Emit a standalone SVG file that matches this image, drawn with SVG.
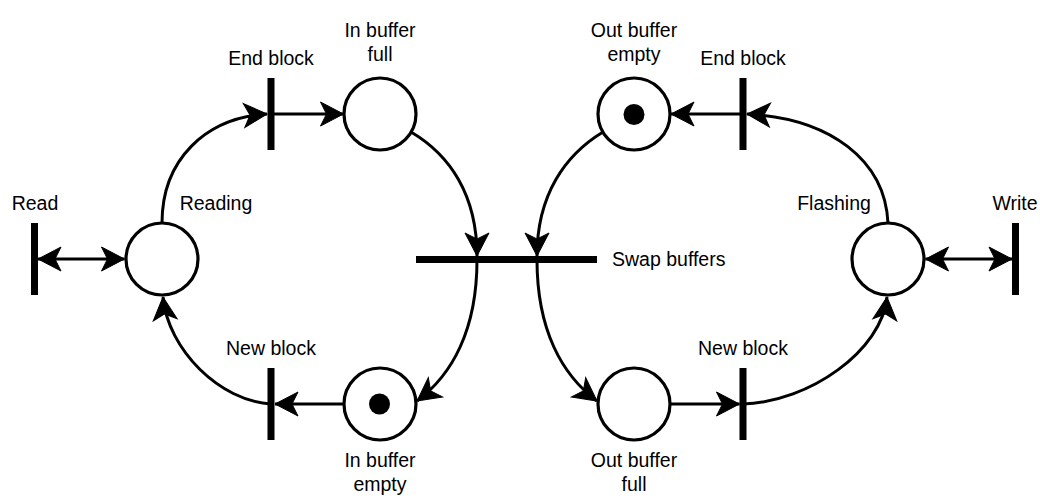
<svg xmlns="http://www.w3.org/2000/svg" width="1040" height="498" viewBox="0 0 1040 498">
  <style>
    .place { fill: #fff; stroke: #000; stroke-width: 3.2; }
    .token { fill: #000; }
    .bar { fill: #000; }
    .edge { fill: none; stroke: #000; stroke-width: 3; }
    .arr { marker-end: url(#head); }
    .both { marker-start: url(#head); marker-end: url(#head); }
    text { font-family: "Liberation Sans", Arial, Helvetica, sans-serif; font-size: 19.5px; fill: #000; text-anchor: middle; }
    .left { text-anchor: start; }
  </style>
  <defs>
    <marker id="head" markerUnits="userSpaceOnUse" markerWidth="30" markerHeight="30" refX="0" refY="0" orient="auto-start-reverse" overflow="visible">
      <path d="M0,0 L-23,-12 L-17,0 L-23,12 Z" fill="#000" stroke="#000" stroke-width="1" stroke-linejoin="miter"/>
    </marker>
  </defs>

  <rect width="1040" height="498" fill="#fff"/>

  <!-- arcs between places and transitions -->
  <g id="connectors">
    <path class="edge both" d="M38,259 L124.5,259"/>
    <path class="edge arr" d="M162,223 C162,160 205,118 267,114"/>
    <path class="edge arr" d="M271,114 L343.5,114"/>
    <path class="edge arr" d="M411,132 C450,155 477,195 477,256"/>
    <path class="edge arr" d="M477,260 C477,330 452,375 417,401"/>
    <path class="edge arr" d="M343,404 L275,404"/>
    <path class="edge arr" d="M271,404 C220,401 168,350 163,297"/>

    <path class="edge both" d="M925.5,259 L1012,259"/>
    <path class="edge arr" d="M888,223 C885,160 830,118 747,114"/>
    <path class="edge arr" d="M743,114 L671,114"/>
    <path class="edge arr" d="M603,132 C565,155 537,195 537,256"/>
    <path class="edge arr" d="M537,260 C537,330 562,375 597,401"/>
    <path class="edge arr" d="M671,404 L739.5,404"/>
    <path class="edge arr" d="M743,404 C810,402 882,350 887,297"/>
  </g>

  <!-- transitions -->
  <g id="t-read">
    <rect class="bar" x="31" y="223" width="7" height="72"/>
    <text x="35" y="210">Read</text>
  </g>
  <g id="t-end-block-in">
    <rect class="bar" x="267.5" y="78" width="7" height="72"/>
    <text x="271" y="65">End block</text>
  </g>
  <g id="t-new-block-in">
    <rect class="bar" x="267.5" y="368" width="7" height="72"/>
    <text x="271" y="355">New block</text>
  </g>
  <g id="t-swap">
    <rect class="bar" x="416" y="256" width="181" height="7"/>
    <text class="left" x="612" y="266">Swap buffers</text>
  </g>
  <g id="t-end-block-out">
    <rect class="bar" x="739.5" y="78" width="7" height="72"/>
    <text x="743" y="65">End block</text>
  </g>
  <g id="t-new-block-out">
    <rect class="bar" x="739.5" y="368" width="7" height="72"/>
    <text x="743" y="355">New block</text>
  </g>
  <g id="t-write">
    <rect class="bar" x="1012" y="223" width="7" height="72"/>
    <text x="1015" y="210">Write</text>
  </g>

  <!-- places -->
  <g id="p-reading">
    <circle class="place" cx="162" cy="259" r="36"/>
    <text x="216" y="210">Reading</text>
  </g>
  <g id="p-in-full">
    <circle class="place" cx="380" cy="114" r="36"/>
    <text x="380" y="37">In buffer</text>
    <text x="380" y="61">full</text>
  </g>
  <g id="p-in-empty">
    <circle class="place" cx="380" cy="404" r="36"/>
    <circle class="token" cx="379.5" cy="404" r="10.5"/>
    <text x="380" y="467">In buffer</text>
    <text x="380" y="490.5">empty</text>
  </g>
  <g id="p-out-empty">
    <circle class="place" cx="634" cy="114" r="36"/>
    <circle class="token" cx="634" cy="114.5" r="10.5"/>
    <text x="634" y="37">Out buffer</text>
    <text x="634" y="61">empty</text>
  </g>
  <g id="p-out-full">
    <circle class="place" cx="634" cy="404" r="36"/>
    <text x="634" y="467">Out buffer</text>
    <text x="634" y="490.5">full</text>
  </g>
  <g id="p-flashing">
    <circle class="place" cx="888" cy="259" r="36"/>
    <text x="834" y="210">Flashing</text>
  </g>
</svg>
